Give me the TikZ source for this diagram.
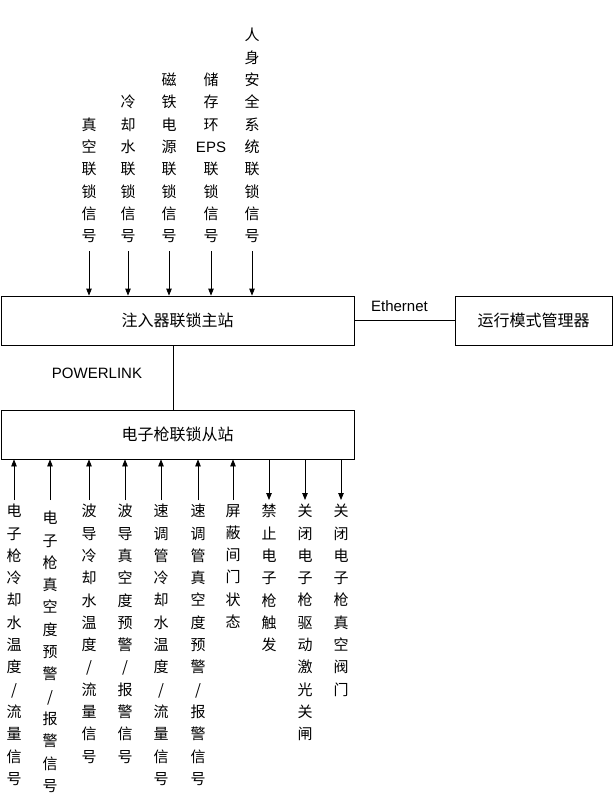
\documentclass[tikz,border=0pt]{standalone}
\usepackage{fontspec}
\setmainfont{Liberation Sans}
\newfontfamily\cjk{Noto Sans CJK SC}
\usetikzlibrary{arrows.meta}

\begin{document}
\begin{tikzpicture}[
    x=1pt, y=-1pt,
    every node/.style={inner sep=0pt, font=\fontsize{15}{22.3}\selectfont\cjk},
    box/.style={draw, rectangle, line width=0.8pt, minimum height=49pt, font=\fontsize{16}{18}\selectfont\cjk},
    sig/.style={align=center},
    latin/.style={font=\fontsize{15}{18}\selectfont\rmfamily},
    arrow/.style={-{Triangle[length=7pt,width=5.5pt]}, line width=0.8pt}
]
\useasboundingbox (0,0) rectangle (613,797);

% stations
\node[box, minimum width=353pt] (main) at (177.5,320.5) {注入器联锁主站};
\node[box, minimum width=353pt] (gun) at (177.5,434.5) {电子枪联锁从站};
\node[box, minimum width=157pt] (mgr) at (533.5,320.5) {运行模式管理器};

\draw[line width=0.8pt] (main.east) -- (mgr.west) node[latin, pos=0.45, above=8pt] (eth) {Ethernet};
\draw[line width=0.8pt] ([xshift=-4pt]main.south) -- ([xshift=-4pt]gun.north);
\node[latin] (pl) at (97,373) {POWERLINK};

% interlock inputs of the master
\node[sig, anchor=south] (t1) at (89,243) {真\\空\\联\\锁\\信\\号};
\node[sig, anchor=south] (t2) at (128,243) {冷\\却\\水\\联\\锁\\信\\号};
\node[sig, anchor=south] (t3) at (169,243) {磁\\铁\\电\\源\\联\\锁\\信\\号};
\node[sig, anchor=south] (t4) at (211,243) {储\\存\\环\\{\rmfamily EPS}\\联\\锁\\信\\号};
\node[sig, anchor=south] (t5) at (252,243) {人\\身\\安\\全\\系\\统\\联\\锁\\信\\号};

\draw[arrow, shorten <=8pt] (t1.south) -- (t1.south |- main.north);
\draw[arrow, shorten <=8pt] (t2.south) -- (t2.south |- main.north);
\draw[arrow, shorten <=8pt] (t3.south) -- (t3.south |- main.north);
\draw[arrow, shorten <=8pt] (t4.south) -- (t4.south |- main.north);
\draw[arrow, shorten <=8pt] (t5.south) -- (t5.south |- main.north);

% signals of the slave
\node[sig, anchor=north] (b1) at (14,504) {电\\子\\枪\\冷\\却\\水\\温\\度\\/\\流\\量\\信\\号};
\node[sig, anchor=north] (b2) at (50,511) {电\\子\\枪\\真\\空\\度\\预\\警\\/\\报\\警\\信\\号};
\node[sig, anchor=north] (b3) at (89,504) {波\\导\\冷\\却\\水\\温\\度\\/\\流\\量\\信\\号};
\node[sig, anchor=north] (b4) at (125,504) {波\\导\\真\\空\\度\\预\\警\\/\\报\\警\\信\\号};
\node[sig, anchor=north] (b5) at (161,504) {速\\调\\管\\冷\\却\\水\\温\\度\\/\\流\\量\\信\\号};
\node[sig, anchor=north] (b6) at (198,504) {速\\调\\管\\真\\空\\度\\预\\警\\/\\报\\警\\信\\号};
\node[sig, anchor=north] (b7) at (233,504) {屏\\蔽\\间\\门\\状\\态};
\node[sig, anchor=north] (b8) at (269,504) {禁\\止\\电\\子\\枪\\触\\发};
\node[sig, anchor=north] (b9) at (305,504) {关\\闭\\电\\子\\枪\\驱\\动\\激\\光\\关\\闸};
\node[sig, anchor=north] (b10) at (341,504) {关\\闭\\电\\子\\枪\\真\\空\\阀\\门};

\draw[arrow, shorten <=4pt] (b1.north) -- (b1.north |- gun.south);
\draw[arrow, shorten <=11pt] (b2.north) -- (b2.north |- gun.south);
\draw[arrow, shorten <=4pt] (b3.north) -- (b3.north |- gun.south);
\draw[arrow, shorten <=4pt] (b4.north) -- (b4.north |- gun.south);
\draw[arrow, shorten <=4pt] (b5.north) -- (b5.north |- gun.south);
\draw[arrow, shorten <=4pt] (b6.north) -- (b6.north |- gun.south);
\draw[arrow, shorten <=4pt] (b7.north) -- (b7.north |- gun.south);
\draw[arrow, shorten >=4pt] (b8.north |- gun.south) -- (b8.north);
\draw[arrow, shorten >=4pt] (b9.north |- gun.south) -- (b9.north);
\draw[arrow, shorten >=4pt] (b10.north |- gun.south) -- (b10.north);
\end{tikzpicture}
\end{document}
